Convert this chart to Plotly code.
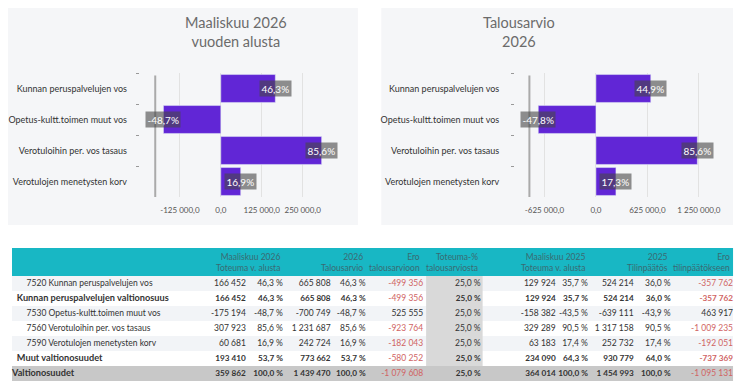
import plotly.graph_objects as go

# ---------------- data ----------------
categories = ["Kunnan peruspalvelujen vos", "Opetus-kultt.toimen muut vos",
              "Verotuloihin per. vos tasaus", "Verotulojen menetysten korv"]
ytd_2026 = [166452, -175194, 307923, 60681]
ytd_2026_labels = ["46,3%", "-48,7%", "85,6%", "16,9%"]
budget_2026 = [665808, -700749, 1231687, 242724]
budget_2026_labels = ["44,9%", "-47,8%", "85,6%", "17,3%"]

left_tickvals = [-125000, 0, 125000, 250000]
left_ticktext = ["-125 000,0", "0,0", "125 000,0", "250 000,0"]
right_tickvals = [-625000, 0, 625000, 1250000]
right_ticktext = ["-625 000,0", "0,0", "625 000,0", "1 250 000,0"]

row_labels = ["7520 Kunnan peruspalvelujen vos", "Kunnan peruspalvelujen valtionosuus",
              "7530 Opetus-kultt.toimen muut vos", "7560 Verotuloihin per. vos tasaus",
              "7590 Verotulojen menetysten korv", "Muut valtionosuudet", "Valtionosuudet"]
row_level = [2, 1, 2, 2, 2, 1, 0]   # 2 = detail, 1 = subtotal, 0 = total
m26 = [166452, 166452, -175194, 307923, 60681, 193410, 359862]
m26_pct = [46.3, 46.3, -48.7, 85.6, 16.9, 53.7, 100.0]
ta26 = [665808, 665808, -700749, 1231687, 242724, 773662, 1439470]
ta26_pct = [46.3, 46.3, -48.7, 85.6, 16.9, 53.7, 100.0]
ero_ta = [-499356, -499356, 525555, -923764, -182043, -580252, -1079608]
tot_pct = [25.0, 25.0, 25.0, 25.0, 25.0, 25.0, 25.0]
m25 = [129924, 129924, -158382, 329289, 63183, 234090, 364014]
m25_pct = [35.7, 35.7, -43.5, 90.5, 17.4, 64.3, 100.0]
tp25 = [524214, 524214, -639111, 1317158, 252732, 930779, 1454993]
tp25_pct = [36.0, 36.0, -43.9, 90.5, 17.4, 64.0, 100.0]
ero_tp = [-357762, -357762, 463917, -1009235, -192051, -737369, -1095131]

header_texts = ["Maaliskuu 2026<br>Toteuma v. alusta", "2026<br>Talousarvio",
                "Ero<br>talousarvioon", "Toteuma-%<br>talousarviosta",
                "Maaliskuu 2025<br>Toteuma v. alusta", "2025<br>Tilinpäätös",
                "Ero<br>tilinpäätökseen"]

# ---------------- style ----------------
# the page body adds an 8 px margin, so the figure is drawn 8 px in from the corner
OFF = 8
W, H = 750 - OFF, 381 - OFF
FONT = "Segoe UI, Lato, sans-serif"
PURPLE = "#6126d6"
PANEL = "#f5f6f8"
TEAL = "#18b7c4"
RED = "#d06464"
TXT = "#333333"

def px_x(p):
    return (p - OFF) / W

def px_y(p):
    return 1 - (p - OFF) / H

def fmt_num(v):
    s = f"{abs(v):,}".replace(",", " ")
    return ("-" if v < 0 else "") + s

def fmt_pct(v):
    return f"{v:.1f}".replace(".", ",") + " %"

def bold(s, on):
    return f"<b>{s}</b>" if on else s

fig = go.Figure()

fig.add_trace(go.Bar(x=ytd_2026, y=categories, orientation="h", marker_color=PURPLE,
                     xaxis="x", yaxis="y", hoverinfo="skip"))
fig.add_trace(go.Bar(x=budget_2026, y=categories, orientation="h", marker_color=PURPLE,
                     xaxis="x2", yaxis="y2", hoverinfo="skip"))
# carriers for the separate label / boundary-tick axes (draw nothing)
for ya, xa, vals in [("y4", "x", ytd_2026), ("y6", "x", ytd_2026),
                     ("y5", "x2", budget_2026), ("y7", "x2", budget_2026)]:
    fig.add_trace(go.Scatter(x=vals, y=categories, mode="none", xaxis=xa, yaxis=ya,
                             hoverinfo="skip"))

# ---------------- table (text on its own hidden axes) ----------------
is_bold = [l < 2 for l in row_level]
label_x = {2: 23, 1: 13, 0: 8}
fig.add_trace(go.Scatter(
    x=[label_x[l] for l in row_level], y=row_labels, mode="text",
    text=[bold(t, b) for t, b in zip(row_labels, is_bold)],
    textposition="middle right",
    textfont=dict(family=FONT, size=[9.2 if b else 8.5 for b in is_bold], color=TXT),
    marker=dict(size=1),
    xaxis="x3", yaxis="y3", cliponaxis=False, hoverinfo="skip"))

table_cols = [
    (m26, fmt_num, is_bold, None),
    (m26_pct, fmt_pct, is_bold, None),
    (ta26, fmt_num, is_bold, None),
    (ta26_pct, fmt_pct, is_bold, None),
    (ero_ta, fmt_num, [False] * 7, "red"),
    (tot_pct, fmt_pct, is_bold, None),
    (m25, fmt_num, is_bold, None),
    (m25_pct, fmt_pct, is_bold, None),
    (tp25, fmt_num, is_bold, None),
    (tp25_pct, fmt_pct, is_bold, None),
    (ero_tp, fmt_num, [l == 1 for l in row_level], "red"),
]
col_right = [248, 286, 335, 371, 430, 489, 566, 599, 646, 684, 748]

for (vals, f, bflags, mode), xr in zip(table_cols, col_right):
    colors = [RED if (mode == "red" and v < 0) else TXT for v in vals]
    sizes = [8.2 if b else 8.5 for b in bflags]
    fig.add_trace(go.Scatter(
        x=[xr] * len(vals), y=row_labels, mode="text",
        text=[bold(f(v), b) for v, b in zip(vals, bflags)],
        textposition="middle left", textfont=dict(family=FONT, size=sizes, color=colors),
        xaxis="x3", yaxis="y3", cliponaxis=False, hoverinfo="skip"))

# ---------------- shapes ----------------
shapes = [
    dict(type="rect", xref="paper", yref="paper", x0=px_x(3), x1=px_x(363),
         y0=px_y(225), y1=px_y(3), fillcolor=PANEL, line=dict(width=0), layer="below"),
    dict(type="rect", xref="paper", yref="paper", x0=px_x(387), x1=px_x(748),
         y0=px_y(225), y1=px_y(3), fillcolor=PANEL, line=dict(width=0), layer="below"),
    dict(type="line", xref="x domain", yref="y domain", x0=0, x1=0, y0=0, y1=0.98,
         line=dict(color="#aaaaaa", width=2)),
    dict(type="line", xref="x2 domain", yref="y2 domain", x0=0, x1=0, y0=0, y1=0.98,
         line=dict(color="#aaaaaa", width=2)),
    # table header band
    dict(type="rect", xref="x3", yref="paper", x0=3, x1=748, y0=px_y(276), y1=px_y(248),
         fillcolor=TEAL, line=dict(width=0), layer="below"),
]
for i, lvl in enumerate(row_level):
    fill = "#c8c8c8" if lvl == 0 else ("#f2f4f7" if i % 2 == 0 else "#ffffff")
    shapes.append(dict(type="rect", xref="x3", yref="y3", x0=3, x1=748, y0=i - 0.5, y1=i + 0.5,
                       fillcolor=fill, line=dict(width=0), layer="below"))
    shade = "#c8c8c8" if lvl == 0 else "#d9d9d9"
    shapes.append(dict(type="rect", xref="x3", yref="y3", x0=433, x1=491, y0=i - 0.5, y1=i + 0.5,
                       fillcolor=shade, line=dict(width=0), layer="below"))

# ---------------- annotations ----------------
title_font = dict(family=FONT, size=14.5, color="#6b6b6b")
annotations = [
    dict(text="Maaliskuu 2026<br>vuoden alusta", xref="paper", yref="paper",
         x=px_x(183), y=px_y(32), yanchor="middle", showarrow=False, font=title_font),
    dict(text="Talousarvio<br>2026", xref="paper", yref="paper",
         x=px_x(567), y=px_y(32), yanchor="middle", showarrow=False, font=title_font),
]
lab_font = dict(family=FONT, size=10, color="white")
for v, lab, c in zip(ytd_2026, ytd_2026_labels, categories):
    annotations.append(dict(x=v, y=c, xref="x", yref="y", text=lab, showarrow=False,
                            bgcolor="rgba(70,70,70,0.6)", borderpad=1.5, font=lab_font))
for v, lab, c in zip(budget_2026, budget_2026_labels, categories):
    annotations.append(dict(x=v, y=c, xref="x2", yref="y2", text=lab, showarrow=False,
                            bgcolor="rgba(70,70,70,0.6)", borderpad=1.5, font=lab_font))
header_right = [285, 370, 429, 488, 598, 683, 747]
for t, xr in zip(header_texts, header_right):
    annotations.append(dict(text=t, xref="x3", yref="paper", x=xr, y=px_y(262),
                            xanchor="right", yanchor="middle", align="right", showarrow=False,
                            font=dict(family=FONT, size=8.5, color="#3a6a72")))

# ---------------- axes ----------------
cat_axis = dict(type="category", categoryorder="array", categoryarray=categories,
                range=[3.5, -0.5], showgrid=False, zeroline=False, showline=False,
                fixedrange=True, anchor="free", tickson="boundaries", ticks="outside",
                ticklen=3)
main_y = dict(type="category", categoryorder="array", categoryarray=categories,
              range=[3.5, -0.5], showgrid=False, zeroline=False, showline=False,
              fixedrange=True, showticklabels=False, ticks="",
              domain=[px_y(197), px_y(73)])
label_axis = dict(showticklabels=True, tickcolor="rgba(0,0,0,0)",
                  tickfont=dict(family=FONT, size=9, color=TXT), **cat_axis)
tick_axis = dict(showticklabels=False, tickcolor="#999999", **cat_axis)
xax_common = dict(showgrid=True, gridcolor="#e2e2e2", zeroline=False, showline=False,
                  ticks="", tickangle=0, fixedrange=True, ticklabelstandoff=7,
                  tickfont=dict(family=FONT, size=8, color="#555555"))

fig.update_layout(
    width=W, height=H, margin=dict(l=0, r=0, t=0, b=0),
    paper_bgcolor="white", plot_bgcolor="rgba(0,0,0,0)", showlegend=False,
    bargap=0.1,
    xaxis=dict(domain=[px_x(155), px_x(335)], range=[-200300, 335400], anchor="y",
               tickvals=left_tickvals, ticktext=left_ticktext, **xax_common),
    yaxis=dict(anchor="x", **main_y),
    yaxis4=dict(overlaying="y", position=px_x(138), **tick_axis),
    yaxis6=dict(overlaying="y", position=px_x(126), **label_axis),
    xaxis2=dict(domain=[px_x(539), px_x(720)], range=[-808500, 1334000], anchor="y2",
                tickvals=right_tickvals, ticktext=right_ticktext, **xax_common),
    yaxis2=dict(anchor="x2", **main_y),
    yaxis5=dict(overlaying="y2", position=px_x(523), **tick_axis),
    yaxis7=dict(overlaying="y2", position=px_x(508), **label_axis),
    xaxis3=dict(domain=[0, 1], range=[OFF, 750], visible=False, fixedrange=True, anchor="y3"),
    yaxis3=dict(domain=[px_y(381), px_y(276)], type="category", categoryorder="array",
                categoryarray=row_labels, range=[6.5, -0.5], visible=False,
                fixedrange=True, anchor="x3"),
    shapes=shapes, annotations=annotations,
    font=dict(family=FONT),
)

fig.write_html("out.html")
